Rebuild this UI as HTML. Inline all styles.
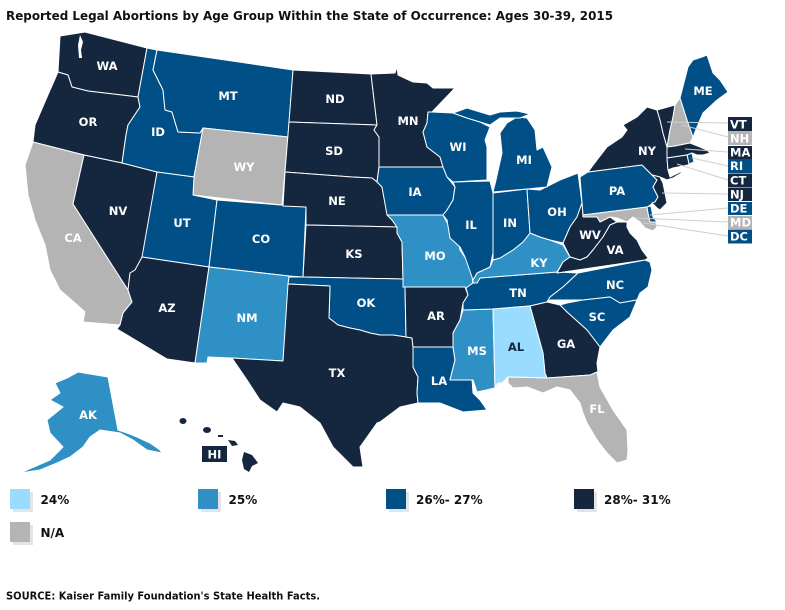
<!DOCTYPE html>
<html><head><meta charset="utf-8"><style>
html,body{margin:0;padding:0;background:#fff;}
svg{display:block;}
text{font-family:"DejaVu Sans","Liberation Sans",sans-serif;font-weight:bold;}
.s{stroke:#fff;stroke-width:1;stroke-linejoin:round;}
.n{fill:#15273f;}
.b{fill:#004f87;}
.m{fill:#2e90c4;}
.l{fill:#9adcff;}
.g{fill:#b4b4b4;}
.lb{fill:#fff;font-size:11.5px;text-anchor:middle;}
.bx{fill:#fff;font-size:11.5px;}
.ld{stroke:#cfcfcf;stroke-width:1;fill:none;}
.lg{font-size:12px;fill:#111;}
</style></head><body>
<svg width="785" height="610" viewBox="0 0 785 610" xmlns="http://www.w3.org/2000/svg">
<rect width="785" height="610" fill="#fff"/>
<text x="6" y="20" font-size="12" fill="#111" textLength="607" lengthAdjust="spacingAndGlyphs">Reported Legal Abortions by Age Group Within the State of Occurrence: Ages 30-39, 2015</text>

<g class="s">
<path class="n" d="M60,36 L85,32 L147,48 L138,97 L88,91 L72,87 L68,75 L58,72 Z"/>
<path class="n" d="M58,72 L68,75 L72,87 L88,91 L138,97 L140,107 L128,125 L126,135 L122,163 L84,155 L33,142 L35,125 L47,97 Z"/>
<path class="g" d="M33,142 L84,155 L73,204 L128,290 L132,302 L123,313 L120,325 L83,322 L85,312 L75,303 L60,290 L50,270 L45,245 L35,220 L28,195 L25,165 Z"/>
<path class="n" d="M84,155 L122,163 L157,172 L143,257 L135,270 L130,273 L128,290 L73,204 Z"/>
<path class="b" d="M147,48 L157,50 L153,70 L163,90 L165,110 L172,112 L178,132 L200,133 L203,128 L194,177 L157,172 L122,163 L126,135 L128,125 L140,107 L138,97 Z"/>
<path class="b" d="M157,50 L293,70 L288,137 L203,128 L200,133 L178,132 L172,112 L165,110 L163,90 L153,70 Z"/>
<path class="g" d="M203,128 L288,137 L282,205 L193,195 L194,177 Z"/>
<path class="b" d="M157,172 L194,177 L193,195 L217,200 L209,267 L142,257 Z"/>
<path class="b" d="M217,200 L306,207 L303,277 L289,276 L209,267 Z"/>
<path class="n" d="M142,257 L209,267 L195,363 L167,359 L117,329 L120,325 L123,313 L132,302 L128,290 L130,273 L135,270 Z"/>
<path class="m" d="M209,267 L289,276 L283,361 L232,358 L208,357 L207,363 L195,363 Z"/>
<path class="n" d="M293,70 L371,74 L377,125 L289,122 Z"/>
<path class="n" d="M289,122 L377,125 L374,130 L379,137 L379,167 L377,182 L372,178 L352,177 L285,172 Z"/>
<path class="n" d="M285,172 L352,177 L372,178 L377,182 L382,187 L387,213 L397,227 L306,225 L306,207 L283,206 Z"/>
<path class="n" d="M306,225 L397,227 L397,233 L402,242 L403,279 L303,277 Z"/>
<path class="b" d="M289,277 L303,277 L403,279 L405,287 L406,337 L393,335 L380,335 L370,333 L360,330 L350,328 L338,325 L329,318 L330,286 L288,284 Z"/>
<path class="n" d="M288,284 L330,286 L329,318 L338,325 L350,328 L360,330 L370,333 L380,335 L393,335 L406,337 L412,338 L413,347 L413,367 L418,377 L417,393 L418,403 L400,407 L380,422 L377,423 L360,447 L363,467 L353,467 L333,447 L320,423 L300,407 L283,403 L277,412 L260,400 L247,380 L232,358 L283,361 Z"/>
<path class="n" d="M371,74 L395,73 L397,67 L398,75 L413,82 L427,83 L433,88 L455,88 L432,112 L428,112 L427,123 L423,132 L427,147 L440,157 L443,167 L379,167 L379,137 L374,130 L377,125 Z"/>
<path class="b" d="M379,167 L443,167 L447,177 L455,187 L453,200 L447,210 L443,215 L387,215 L382,187 L377,182 Z"/>
<path class="m" d="M387,215 L443,215 L450,228 L458,240 L460,250 L468,262 L473,275 L472,288 L466,294 L465,287 L403,287 L403,279 L402,242 L397,233 L397,227 L392,220 Z"/>
<path class="n" d="M403,287 L465,287 L468,295 L463,303 L460,320 L453,333 L453,347 L413,347 L412,338 L406,337 L405,287 Z"/>
<path class="b" d="M413,347 L453,347 L455,360 L450,380 L472,379 L473,393 L480,400 L487,410 L463,412 L440,403 L418,403 L417,393 L418,377 L413,367 Z"/>
<path class="m" d="M463,310 L493,309 L495,388 L477,392 L473,380 L450,380 L455,360 L453,347 L453,333 L460,320 Z"/>
<path class="b" d="M473,283 L477,283 L480,278 L557,272 L578,273 L563,287 L550,297 L547,302 L530,306 L493,309 L463,310 L463,303 L468,295 L466,288 Z"/>
<path class="m" d="M473,280 L477,273 L490,267 L493,260 L500,258 L513,250 L523,242 L530,233 L540,237 L550,240 L563,245 L570,257 L563,262 L557,272 L480,278 L477,283 L473,283 Z"/>
<path class="b" d="M453,182 L490,181 L493,193 L493,253 L490,267 L477,273 L473,280 L465,257 L460,247 L450,238 L447,220 L443,215 L447,210 L453,200 L455,187 Z"/>
<path class="b" d="M493,193 L527,189 L530,233 L523,242 L513,250 L500,258 L493,260 L493,253 Z"/>
<path class="b" d="M527,189 L540,190 L560,180 L578,173 L582,203 L577,217 L570,227 L563,243 L550,240 L540,237 L530,233 Z"/>
<path class="b" d="M432,112 L453,113 L467,118 L480,122 L490,127 L485,140 L487,147 L487,180 L453,182 L447,177 L443,167 L440,157 L427,147 L423,132 L427,123 L428,112 Z"/>
<path class="b" d="M502,153 L500,133 L507,123 L517,117 L527,118 L535,130 L537,150 L543,147 L552,167 L547,187 L527,189 L493,192 L496,180 Z"/>
<path class="b" d="M453,113 L467,108 L490,115 L500,112 L517,111 L530,114 L520,118 L500,118 L490,125 L480,122 L467,118 Z"/>
<path class="b" d="M580,177 L588,172 L642,165 L652,175 L657,180 L653,187 L658,197 L655,202 L647,207 L583,215 Z"/>
<path class="n" d="M588,172 L597,160 L607,147 L622,137 L627,130 L623,125 L637,117 L647,107 L657,110 L660,120 L663,133 L667,147 L667,158 L668,170 L670,177 L680,172 L683,172 L673,178 L667,180 L660,177 L652,175 L642,165 Z"/>
<path class="n" d="M657,110 L675,105 L673,117 L670,130 L667,147 L663,133 L660,120 Z"/>
<path class="g" d="M675,105 L680,98 L688,123 L693,137 L690,143 L675,146 L667,147 L670,130 L673,117 Z"/>
<path class="b" d="M680,98 L688,67 L693,60 L702,57 L707,55 L713,73 L720,80 L728,92 L717,100 L703,113 L697,127 L693,137 L688,123 Z"/>
<path class="n" d="M667,147 L675,146 L690,143 L700,147 L707,150 L710,153 L703,155 L697,155 L692,153 L687,155 L667,158 Z"/>
<path class="b" d="M687,155 L692,153 L694,162 L689,164 Z"/>
<path class="n" d="M667,158 L687,155 L689,164 L688,165 L673,168 L668,170 Z"/>
<path class="n" d="M652,175 L660,177 L663,183 L665,193 L667,203 L660,210 L657,208 L652,203 L655,202 L658,197 L653,187 L657,180 Z"/>
<path class="g" d="M583,215 L647,207 L648,213 L650,222 L656,222 L657,227 L653,231 L645,228 L640,222 L633,217 L627,222 L617,218 L610,217 L600,222 L597,217 L583,217 Z"/>
<path class="b" d="M647,207 L651,206 L653,217 L657,222 L650,222 L648,213 Z"/>
<path class="n" d="M563,243 L570,227 L577,217 L582,203 L583,217 L597,217 L600,222 L610,217 L617,222 L610,225 L603,237 L593,250 L587,257 L580,260 L570,257 Z"/>
<path class="n" d="M570,257 L580,260 L587,257 L593,250 L603,237 L610,225 L617,222 L627,222 L627,227 L630,233 L637,240 L642,250 L648,258 L645,260 L557,273 L563,262 Z"/>
<path class="b" d="M578,273 L645,260 L650,262 L652,270 L648,287 L640,293 L637,300 L620,303 L610,297 L583,300 L563,300 L550,300 L547,302 L550,297 L563,287 Z"/>
<path class="b" d="M560,305 L567,303 L583,300 L610,297 L620,303 L637,300 L630,317 L613,330 L600,347 L587,330 L567,312 Z"/>
<path class="n" d="M530,306 L547,302 L560,305 L567,312 L587,330 L600,347 L597,363 L598,373 L590,375 L547,378 L545,373 L543,353 Z"/>
<path class="l" d="M493,309 L530,306 L543,353 L545,373 L547,378 L508,377 L502,383 L498,383 L495,388 Z"/>
<path class="g" d="M508,377 L547,378 L590,375 L597,372 L600,387 L613,410 L627,430 L628,450 L627,460 L617,463 L607,453 L597,440 L587,423 L583,413 L580,403 L570,390 L557,387 L543,393 L527,387 L513,388 L508,383 Z"/>
<path class="m" d="M78,372 L108,377 L118,430 L127,433 L137,437 L150,443 L160,450 L162,453 L147,450 L133,440 L120,433 L100,430 L90,437 L83,447 L70,457 L57,463 L40,470 L20,473 L50,460 L63,447 L50,433 L47,420 L63,407 L50,400 L60,393 L55,383 L67,378 Z"/>
</g>
<path d="M80,35 L83,42 L81,50 L82,58 L79,58 L78,45 Z" fill="#fff"/>
<g class="n">
<path d="M244,452 L252,455 L258,463 L252,466 L249,472 L244,469 L242,460 Z"/>
<path d="M228,440 L235,441 L238,445 L232,446 Z"/>
<ellipse cx="207" cy="430" rx="4" ry="3"/>
<ellipse cx="183" cy="421" rx="3.5" ry="3"/>
<rect x="218" y="435" width="5" height="2"/>
</g>
<rect x="202" y="446" width="25" height="16" class="n"/>
<text class="lb" x="214.5" y="458.5">HI</text>

<g class="lb">
<text x="107" y="70">WA</text>
<text x="88" y="126">OR</text>
<text x="73" y="242">CA</text>
<text x="118" y="215">NV</text>
<text x="158" y="136">ID</text>
<text x="228" y="100">MT</text>
<text x="244" y="171">WY</text>
<text x="182" y="227">UT</text>
<text x="261" y="243">CO</text>
<text x="167" y="312">AZ</text>
<text x="247" y="322">NM</text>
<text x="335" y="103">ND</text>
<text x="334" y="155">SD</text>
<text x="337" y="205">NE</text>
<text x="354" y="258">KS</text>
<text x="366" y="307">OK</text>
<text x="337" y="377">TX</text>
<text x="408" y="125">MN</text>
<text x="458" y="151">WI</text>
<text x="524" y="164">MI</text>
<text x="415" y="196">IA</text>
<text x="471" y="229">IL</text>
<text x="510" y="227">IN</text>
<text x="557" y="216">OH</text>
<text x="617" y="195">PA</text>
<text x="647" y="155">NY</text>
<text x="703" y="95">ME</text>
<text x="590" y="239">WV</text>
<text x="615" y="254">VA</text>
<text x="435" y="260">MO</text>
<text x="539" y="267">KY</text>
<text x="518" y="297">TN</text>
<text x="615" y="289">NC</text>
<text x="436" y="320">AR</text>
<text x="597" y="321">SC</text>
<text x="477" y="355">MS</text>
<text x="516" y="351" fill="#15273f">AL</text>
<text x="566" y="348">GA</text>
<text x="439" y="385">LA</text>
<text x="597" y="413">FL</text>
<text x="88" y="419">AK</text>
</g>

<g class="ld">
<line x1="667" y1="122" x2="728" y2="123"/>
<line x1="682" y1="125" x2="728" y2="137"/>
<line x1="685" y1="149" x2="728" y2="152"/>
<line x1="692" y1="158" x2="728" y2="166"/>
<line x1="677" y1="164" x2="728" y2="180"/>
<line x1="662" y1="193" x2="728" y2="194"/>
<line x1="650" y1="215" x2="728" y2="208"/>
<line x1="637" y1="218" x2="728" y2="222"/>
<line x1="643" y1="223" x2="728" y2="236"/>
</g>
<rect x="728" y="117" width="24" height="14" class="n"/>
<rect x="728" y="131" width="24" height="14" class="g"/>
<rect x="728" y="146" width="24" height="13" class="n"/>
<rect x="728" y="159" width="24" height="14" class="b"/>
<rect x="728" y="173.5" width="24" height="14" class="n"/>
<rect x="728" y="188" width="24" height="13" class="n"/>
<rect x="728" y="202" width="24" height="13" class="b"/>
<rect x="728" y="216" width="24" height="13" class="g"/>
<rect x="728" y="229.5" width="24" height="14" class="b"/>
<g class="bx">
<text x="730" y="128.5">VT</text>
<text x="730" y="142.5">NH</text>
<text x="730" y="156.5">MA</text>
<text x="730" y="170">RI</text>
<text x="730" y="184.5">CT</text>
<text x="730" y="198.5">NJ</text>
<text x="730" y="212.5">DE</text>
<text x="730" y="226.5">MD</text>
<text x="730" y="240.5">DC</text>
</g>

<g>
<rect x="13" y="492" width="20" height="20" fill="#e4e4e4"/>
<rect x="10" y="489" width="20" height="20" class="l"/>
<text class="lg" x="40.5" y="504">24%</text>
<rect x="201" y="492" width="20" height="20" fill="#e4e4e4"/>
<rect x="198" y="489" width="20" height="20" class="m"/>
<text class="lg" x="228.5" y="504">25%</text>
<rect x="389" y="492" width="20" height="20" fill="#e4e4e4"/>
<rect x="386" y="489" width="20" height="20" class="b"/>
<text class="lg" x="416" y="504">26%- 27%</text>
<rect x="577" y="492" width="20" height="20" fill="#e4e4e4"/>
<rect x="574" y="489" width="20" height="20" class="n"/>
<text class="lg" x="604" y="504">28%- 31%</text>
<rect x="13" y="525" width="20" height="20" fill="#e4e4e4"/>
<rect x="10" y="522" width="20" height="20" class="g"/>
<text class="lg" x="40.5" y="537">N/A</text>
</g>

<text x="6" y="599.5" font-size="11" fill="#111" textLength="314" lengthAdjust="spacingAndGlyphs">SOURCE: Kaiser Family Foundation's State Health Facts.</text>
</svg>
</body></html>
